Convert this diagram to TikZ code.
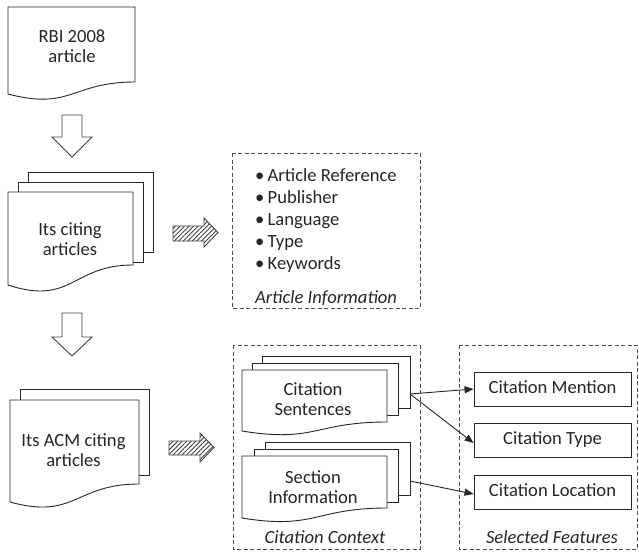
\documentclass[tikz,border=0pt]{standalone}
\usepackage{fontspec}
\setmainfont{Carlito}
\usetikzlibrary{arrows.meta,patterns.meta}
\begin{document}
\begin{tikzpicture}[x=1pt,y=-1pt,
  docline/.style={draw=black!85,line width=0.9pt,fill=white,line join=miter},
  blockarrow/.style={draw=black!75,line width=0.9pt,fill=white,line join=miter},
  hatcharrow/.style={draw=black!75,line width=0.9pt,line join=miter,
     pattern={Lines[angle=45,distance=3.2pt,line width=0.9pt]},pattern color=black!75},
  dashbox/.style={draw=black!70,line width=0.9pt,dash pattern=on 4pt off 2.5pt},
  lbl/.style={font=\fontsize{18.6}{20}\selectfont,align=center,inner sep=0pt,text=black!85},
  itlbl/.style={font=\fontsize{18.6}{20}\selectfont\itshape,inner sep=0pt,anchor=base,text=black!85},
  item/.style={font=\fontsize{18.6}{22}\selectfont,inner sep=0pt,anchor=base west,text=black!85},
  featbox/.style={draw=black!85,line width=0.9pt,minimum width=157pt,minimum height=34pt,
     font=\fontsize{18.6}{20}\selectfont,text height=12pt,text depth=3.5pt,inner sep=0pt,text=black!85},
  conn/.style={draw=black!85,line width=0.9pt,-{Triangle[length=9pt,width=7pt]}}]
\useasboundingbox (0,0) rectangle (639,551);

% --- RBI 2008 article
\draw[docline] (8,7) -- (135,7) -- (135,82) .. controls (71.5,82) and (71.5,110.6) .. (8,94) -- cycle;
\node[lbl] (rbi) at (72,46.2) {RBI 2008\\article};

% --- down arrow 1
\draw[blockarrow] (62,115) -- (82,115) -- (82,137) -- (92,137) -- (72,157) -- (52,137) -- (62,137) -- cycle;

% --- Its citing articles (stack of three)
\draw[docline] (28,172) rectangle (153,252);
\draw[docline] (18,182) rectangle (143,262);
\draw[docline] (8,192) -- (133,192) -- (133,265) .. controls (72,265) and (72,306) .. (8,285) -- cycle;
\node[lbl] (citing) at (70,239.2) {Its citing\\articles};

% --- down arrow 2
\draw[blockarrow] (62,313) -- (82,313) -- (82,337) -- (92,337) -- (72,356) -- (52,337) -- (62,337) -- cycle;

% --- Its ACM citing articles (stack of two)
\draw[docline] (20,389) rectangle (149,475);
\draw[docline] (10,400) -- (139,400) -- (139,484) .. controls (75,484) and (75,520) .. (10,502) -- cycle;
\node[lbl] (acm) at (73.5,450.2) {Its ACM citing\\articles};

% --- hatched arrows
\draw[hatcharrow] (173,226) -- (204,226) -- (204,218) -- (218,232.5) -- (204,247) -- (204,241) -- (173,241) -- cycle;
\draw[hatcharrow] (169,441) -- (200,441) -- (200,433) -- (214,447.5) -- (200,462) -- (200,455) -- (169,455) -- cycle;

% --- Article Information box
\draw[dashbox] (232,153) rectangle (420,308);
\node[item] (i1) at (255,181) {\makebox[12.5pt][l]{•}Article Reference};
\node[item] (i2) at (255,203) {\makebox[12.5pt][l]{•}Publisher};
\node[item] (i3) at (255,225) {\makebox[12.5pt][l]{•}Language};
\node[item] (i4) at (255,247) {\makebox[12.5pt][l]{•}Type};
\node[item] (i5) at (255,269) {\makebox[12.5pt][l]{•}Keywords};
\node[itlbl] (artinfo) at (326,303) {Article Information};

% --- Citation Context box
\draw[dashbox] (233,345) rectangle (420,549);
\draw[docline] (262,356) rectangle (410,408);
\draw[docline] (252,363) rectangle (398,415);
\draw[docline] (242,370) -- (387,370) -- (387,422) .. controls (315,422) and (315,443) .. (242,431) -- cycle;
\node[lbl] (sent) at (313,399.2) {Citation\\Sentences};
\draw[docline] (265,442) rectangle (410,495);
\draw[docline] (254,449) rectangle (398,502);
\draw[docline] (242,456) -- (387,456) -- (387,508) .. controls (315,508) and (315,530) .. (242,518) -- cycle;
\node[lbl] (sect) at (313,486.7) {Section\\Information};
\node[itlbl] (ctx) at (325,543) {Citation Context};

% --- Selected Features box
\draw[dashbox] (459,345) rectangle (637,549);
\node[featbox] (mention) at (552.5,389) {Citation Mention};
\node[featbox] (ctype) at (552.5,440) {Citation Type};
\node[featbox] (cloc) at (552.5,492) {Citation Location};
\node[itlbl] (sel) at (552,543) {Selected Features};

% --- connectors
\coordinate (sentout) at (410,394);
\coordinate (secout) at (410,481);
\draw[conn] (sentout) -- (mention.west);
\draw[conn] (sentout) -- ([yshift=-3pt]ctype.west);
\draw[conn] (secout) -- ([yshift=-2pt]cloc.west);
\end{tikzpicture}
\end{document}
